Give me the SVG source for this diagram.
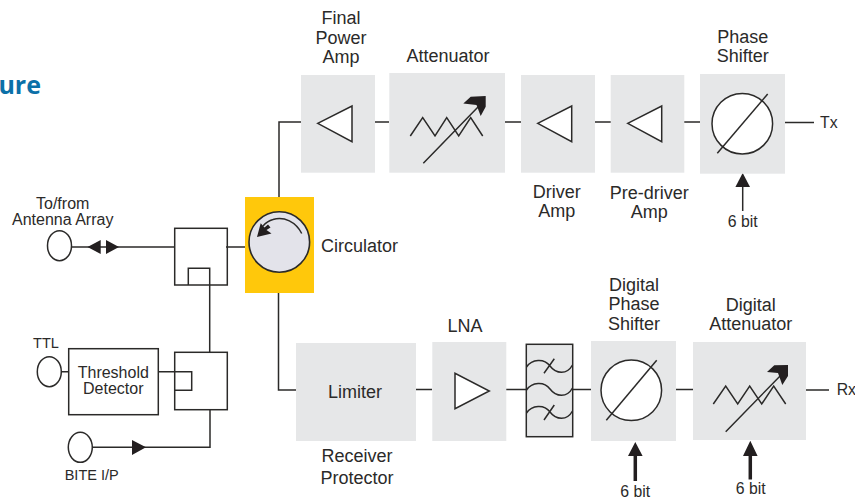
<svg xmlns="http://www.w3.org/2000/svg" width="855" height="500" viewBox="0 0 855 500">
<style>
text{font-family:"Liberation Sans",Arial,sans-serif;font-size:18px;fill:#2b2a29;text-anchor:middle}
.m{font-size:16px}
.s{font-size:14.500px}
.t{font-size:15.800px}
.l{text-anchor:start}
.title{font-family:"Open Sans","Liberation Sans",sans-serif;font-size:25px;font-weight:700;fill:#0b70a8;text-anchor:end}
.b{fill:#e6e7e8}
.o{fill:none;stroke:#2b2a29;stroke-width:1.500}
.w{fill:#fff;stroke:#2b2a29;stroke-width:1.500}
.c{fill:none;stroke:#2b2a29;stroke-width:1.500}
.k{fill:#231f20;stroke:none}
</style>
<rect width="855" height="500" fill="#fff"/>
<text class="title" x="41" y="94">ure</text>
<g id="connectors">
<path class="c" d="M71 247H175M226 247H245M279 197V122H301M278.500 293V390H296M375 122H389M505 122H521M595 122H611M684 122H700M785 122.500H814"/>
<path class="c" d="M416 389.500H432M506 389.500H526M572.500 389.500H591M676 389.500H693M806 390H829"/>
<path class="c" d="M209.700 285V352.300M61 371.700H69M158 371.700H191.700V390.300H175M92 447.300H210V409.700"/>
<path class="k" d="M87.500 247L100.700 240V254ZM119 247L106 240V254ZM146 447.300L132 440V455Z"/>
<path class="c" d="M742.700 185V211"/>
<path class="k" d="M742.700 173L750 187H735.400Z"/>
<path d="M635.300 455V481M750.300 455V479.500" fill="none" stroke="#231f20" stroke-width="3.500"/>
<path class="k" d="M635.300 442L642.600 456H628ZM750.300 440.700L757.600 456H743Z"/>
</g>
<g id="antenna"><ellipse class="w" cx="59.500" cy="245.700" rx="12" ry="15"/><text class="m" x="62.700" y="209">To/from</text><text class="m" x="62.700" y="225">Antenna Array</text></g>
<g id="coupler"><rect class="o" x="174.700" y="228.300" width="52.600" height="56.700"/><path class="o" d="M188.300 285V268.300H209.700V285"/></g>
<g id="circulator"><rect x="245" y="197" width="69" height="96" fill="#ffc80b"/><circle cx="279.300" cy="242" r="30.300" fill="#e3e3ea" stroke="#2b2a29" stroke-width="1.600"/><path class="c" d="M301.700 233.500C296 222 284 216 273 219.500C269 220.500 266 222.500 263 226"/><path class="k" d="M257 237L260.700 223.300L264.500 227.500L268 224.500L270.500 227.500L266.500 230L271.500 233.500Z"/><text class="l" x="321" y="252">Circulator</text></g>
<g id="ttl"><ellipse class="w" cx="49.300" cy="371.700" rx="12" ry="15"/><text class="s" x="46" y="347.700">TTL</text></g>
<g id="threshold"><rect class="o" x="68.700" y="348.700" width="89.600" height="66"/><text class="m" x="113.300" y="378.300">Threshold</text><text class="m" x="113.300" y="394">Detector</text></g>
<g id="switch"><rect class="o" x="174.700" y="352.300" width="52.600" height="57.400"/></g>
<g id="bite"><ellipse class="w" cx="80.300" cy="447.300" rx="12" ry="15"/><text class="s" x="91.700" y="480">BITE I/P</text></g>
<g id="final-amp"><rect class="b" x="301" y="75" width="74" height="97.700"/><path class="w" d="M317.700 123.300L352 106V141.700Z"/><text x="341" y="23.500">Final</text><text x="341" y="43.500">Power</text><text x="341" y="63">Amp</text></g>
<g id="attenuator"><rect class="b" x="389.300" y="73" width="115.700" height="99.700"/><path class="c" d="M410.300 136L422.700 117.700L435 136L446.700 117.700L458.700 136L470.700 117.700L482.700 136M423.300 163.300L478 107"/><path class="k" d="M463.300 103.500L470.700 96.700L485.700 96V106.700L480.700 116L476.500 105Z"/><text x="448" y="62">Attenuator</text></g>
<g id="driver"><rect class="b" x="521" y="75" width="74" height="97.700"/><path class="w" d="M537.700 123.300L571.700 106V141.700Z"/><text x="556.700" y="198">Driver</text><text x="556.700" y="217">Amp</text></g>
<g id="pre-driver"><rect class="b" x="610.700" y="75" width="73.600" height="97.700"/><path class="w" d="M627.700 123.300L661.700 106V141.700Z"/><text x="649.300" y="199">Pre-driver</text><text x="649.300" y="218">Amp</text></g>
<g id="phase-shifter"><rect class="b" x="700" y="74" width="85" height="99.700"/><circle class="w" cx="742.300" cy="123.700" r="30.300"/><path class="c" d="M717.300 153.300L767.700 94"/><text x="742.700" y="42.700">Phase</text><text x="742.700" y="62">Shifter</text><text class="t l" x="820" y="128">Tx</text><text class="t" x="742.700" y="226.700">6 bit</text></g>
<g id="limiter"><rect class="b" x="296" y="343" width="120" height="98"/><text x="355" y="398">Limiter</text><text x="357" y="462">Receiver</text><text x="357" y="484">Protector</text></g>
<g id="lna"><rect class="b" x="432.300" y="342" width="74" height="99"/><path class="w" d="M455 373.300V408.700L489.300 391Z"/><text x="465" y="332">LNA</text></g>
<g id="filter"><rect x="526.300" y="344.300" width="46.400" height="92.400" fill="#e6e7e8" stroke="#2b2a29" stroke-width="1.500"/><path class="c" d="M526.500 367C532 359 544 358 550 366C556 374 567 375 572.500 365M544 373.300L554.300 358.700M526.500 390C532 382 544 381 550 389C556 397 567 398 572.500 388M526.500 413C532 405 544 404 550 412C556 420 567 421 572.500 411M544 420L554.300 405"/></g>
<g id="digital-phase"><rect class="b" x="591" y="341" width="85" height="100"/><circle class="w" cx="631.300" cy="390.300" r="30.300"/><path class="c" d="M606.300 420.300L656.700 360.300"/><text x="634" y="290.700">Digital</text><text x="634" y="310">Phase</text><text x="634" y="330">Shifter</text><text class="t" x="635.300" y="496.700">6 bit</text></g>
<g id="digital-attenuator"><rect class="b" x="693" y="342" width="113" height="98"/><path class="c" d="M713.300 404L725.700 386L737.700 404L749.700 386L761.700 404L773.700 386L785.700 404M725.700 431.700L783 373"/><path class="k" d="M767 372L774.300 365.300L788 365V376L782.300 385L778 373Z"/><text x="750.700" y="311">Digital</text><text x="750.700" y="330">Attenuator</text><text class="t l" x="836.700" y="395.300">Rx</text><text class="t" x="750.700" y="494.300">6 bit</text></g>
</svg>
